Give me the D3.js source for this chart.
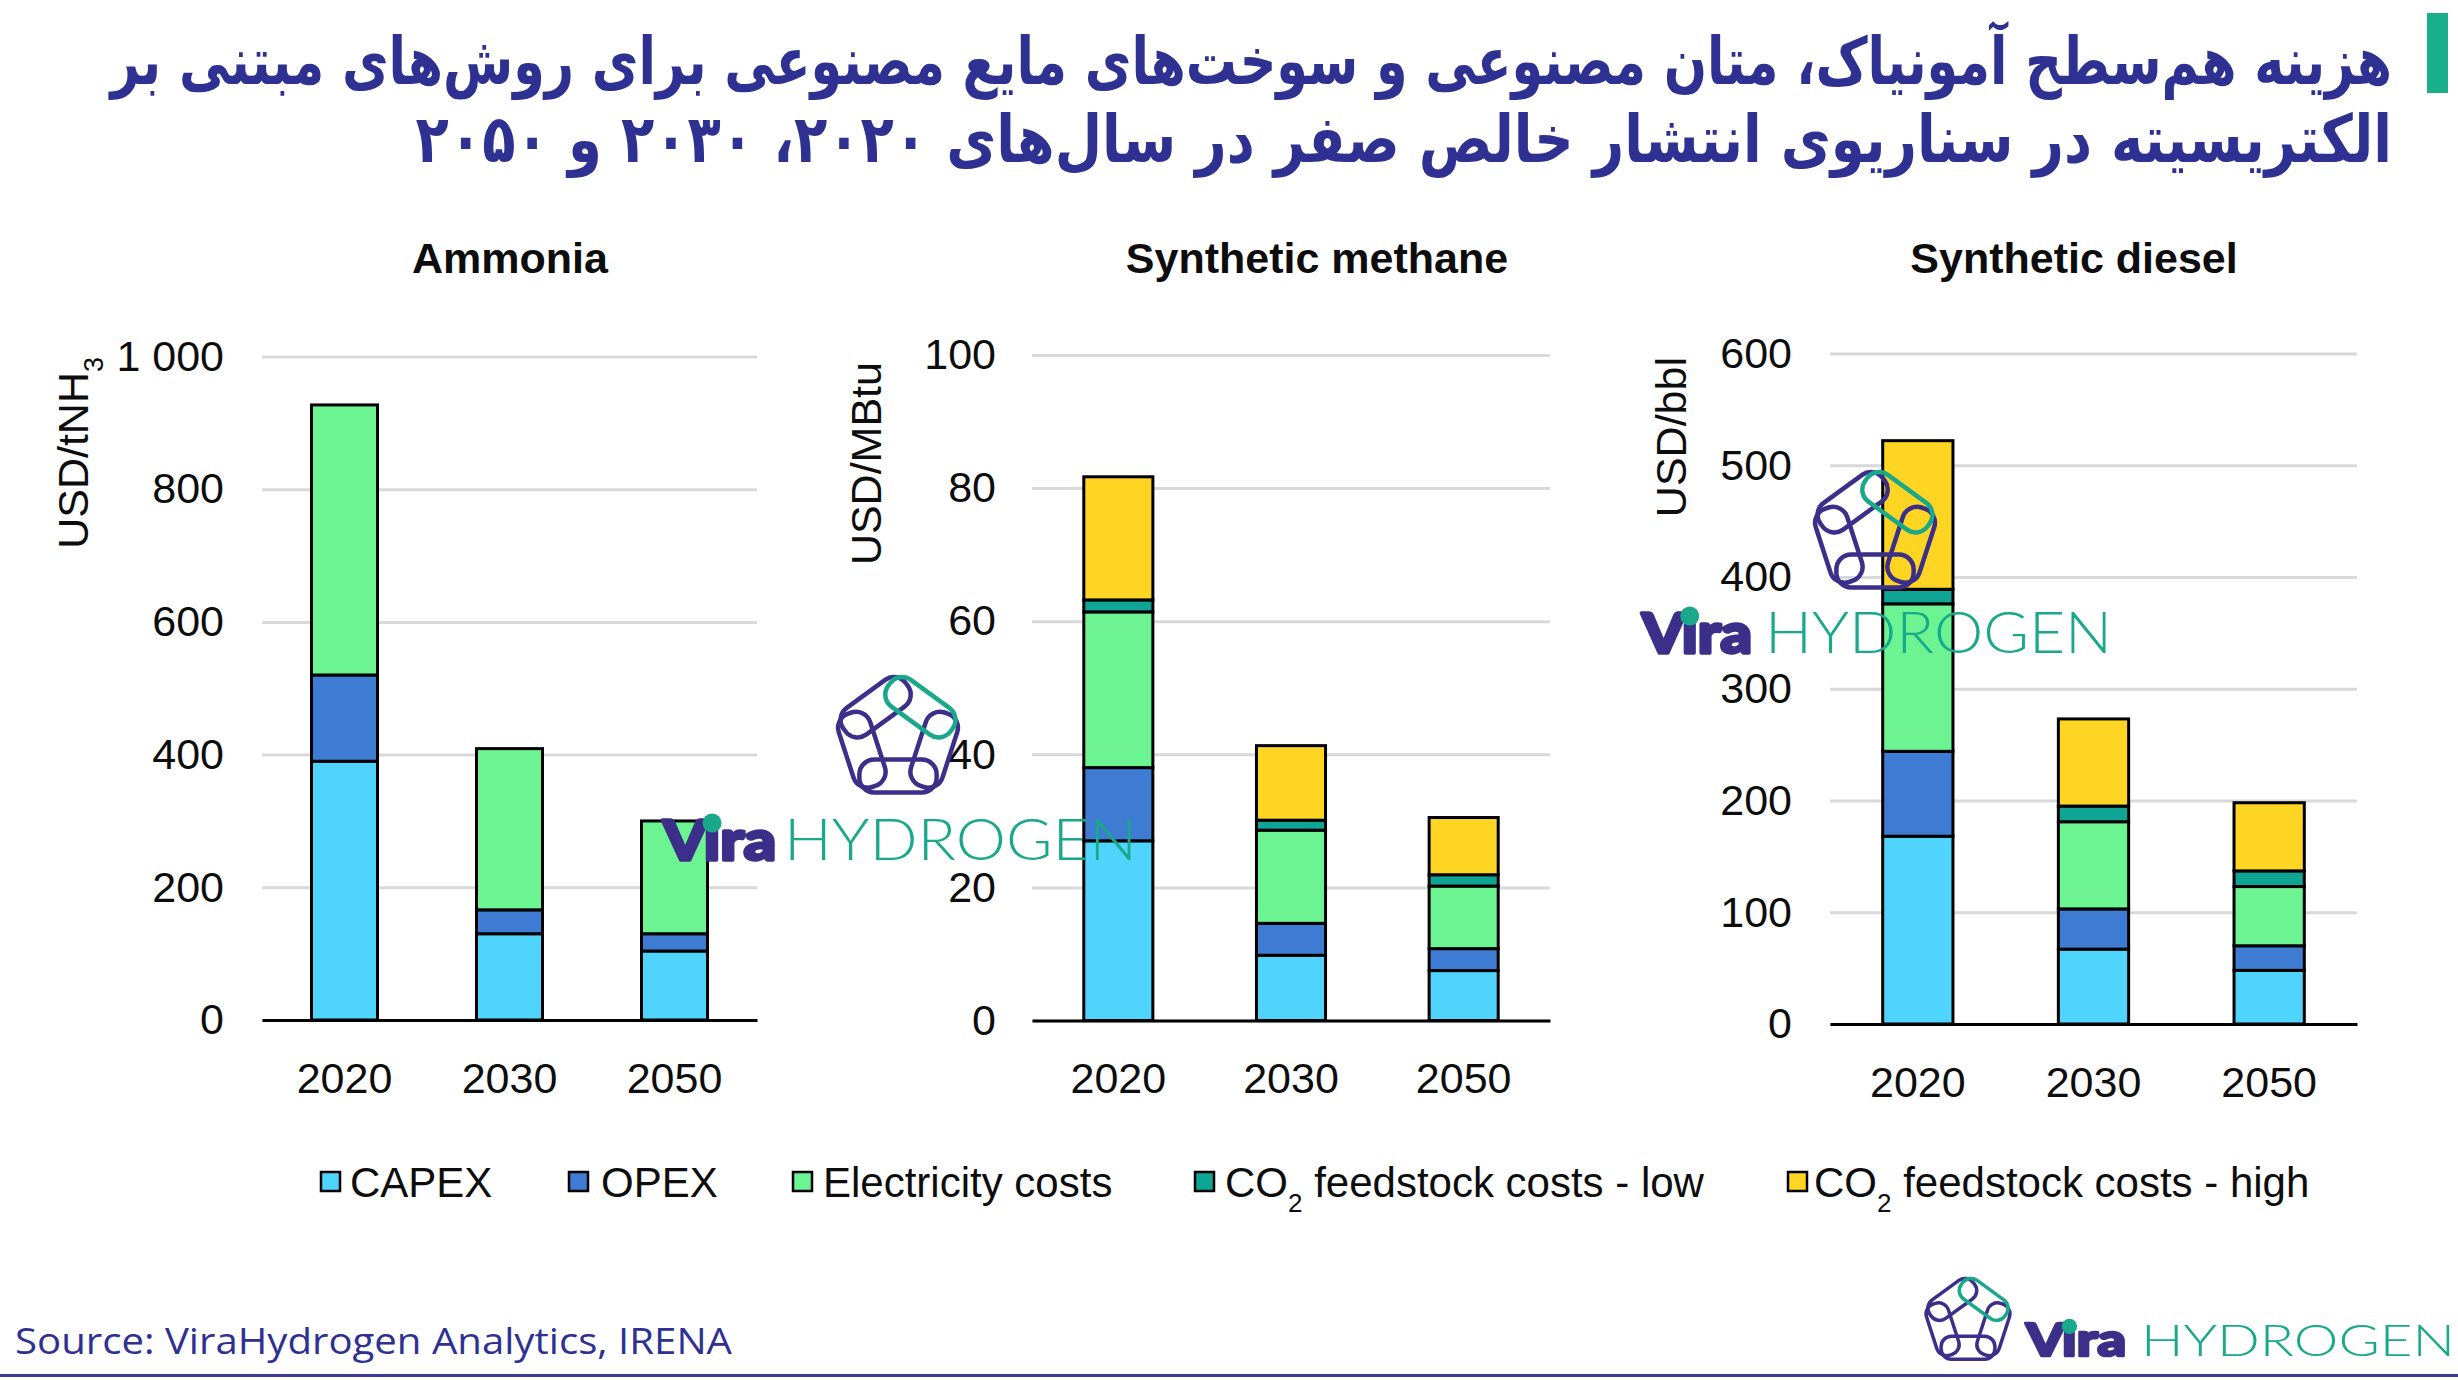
<!DOCTYPE html>
<html><head><meta charset="utf-8">
<script src="https://cdn.jsdelivr.net/npm/d3@7"></script>
<style>
html,body{margin:0;padding:0;background:#fff;}
svg{display:block;}
</style></head>
<body>
<svg id="chart" width="2458" height="1380"></svg>
<script>
// ---------------- DATA ----------------
const years = ["2020", "2030", "2050"];
const seriesKeys = ["capex", "opex", "elec", "co2low", "co2high"];
const seriesLabels = ["CAPEX", "OPEX", "Electricity costs", "CO2 feedstock costs - low", "CO2 feedstock costs - high"];

const panelTitles = ["Ammonia", "Synthetic methane", "Synthetic diesel"];
const unitLabels = ["USD/tNH3", "USD/MBtu", "USD/bbl"];

// Ammonia (USD/tNH3)
const ammoniaCapex   = [390, 130, 104];
const ammoniaOpex    = [130, 36, 26];
const ammoniaElec    = [407, 243, 170];
const ammoniaCo2Low  = [0, 0, 0];
const ammoniaCo2High = [0, 0, 0];

// Synthetic methane (USD/MBtu)
const methaneCapex   = [27, 9.8, 7.5];
const methaneOpex    = [11, 4.8, 3.3];
const methaneElec    = [23.4, 14, 9.4];
const methaneCo2Low  = [1.8, 1.5, 1.7];
const methaneCo2High = [18.5, 11.2, 8.6];

// Synthetic diesel (USD/bbl)
const dieselCapex   = [168, 67, 48];
const dieselOpex    = [76, 36, 22];
const dieselElec    = [132, 78, 53];
const dieselCo2Low  = [13, 14, 14];
const dieselCo2High = [133, 78, 61];

const ammoniaTicks = [0, 200, 400, 600, 800, 1000];
const ammoniaTickLabels = ["0", "200", "400", "600", "800", "1 000"];
const methaneTicks = [0, 20, 40, 60, 80, 100];
const methaneTickLabels = ["0", "20", "40", "60", "80", "100"];
const dieselTicks = [0, 100, 200, 300, 400, 500, 600];
const dieselTickLabels = ["0", "100", "200", "300", "400", "500", "600"];

const titleLine1 = "هزینه هم‌سطح آمونیاک، متان مصنوعی و سوخت‌های مایع مصنوعی برای روش‌های مبتنی بر";
const titleLine2 = "الکتریسیته در سناریوی انتشار خالص صفر در سال‌های ۲۰۲۰، ۲۰۳۰ و ۲۰۵۰";
const sourceText = "Source: ViraHydrogen Analytics, IRENA";

// ---------------- STYLE / LAYOUT ----------------
const colors = {capex: "#4fd4fd", opex: "#3e7bd3", elec: "#6cf493", co2low: "#0fa595", co2high: "#fdd522"};
const FONT = "'Liberation Sans', Arial, sans-serif";
const FS = 43;
const navy = "#3b2f8a", teal = "#19a98a";

const svg = d3.select("#chart");

const panelLayout = [
  {x0: 262, x1: 757, yZero: 1020, yTop: 356.5, max: 1000, titleX: 510, unitX: 73, unitEnd: 357, tickRight: 224},
  {x0: 1032, x1: 1550, yZero: 1020.5, yTop: 355, max: 100, titleX: 1317, unitX: 866, unitEnd: 362, tickRight: 996},
  {x0: 1830, x1: 2357, yZero: 1024, yTop: 353.5, max: 600, titleX: 2074, unitX: 1671, unitEnd: 357, tickRight: 1792}
];
const panelValues = [
  [ammoniaCapex, ammoniaOpex, ammoniaElec, ammoniaCo2Low, ammoniaCo2High],
  [methaneCapex, methaneOpex, methaneElec, methaneCo2Low, methaneCo2High],
  [dieselCapex, dieselOpex, dieselElec, dieselCo2Low, dieselCo2High]
];
const panelTicks = [ammoniaTicks, methaneTicks, dieselTicks];
const panelTickLabels = [ammoniaTickLabels, methaneTickLabels, dieselTickLabels];

// ---------------- TITLE ----------------
svg.append("rect").attr("x", 2427).attr("y", 13).attr("width", 21).attr("height", 80).attr("fill", "#17b08a");

function titleLine(txt, right, baseline, targetW) {
  const g = svg.append("g");
  const t = g.append("text").attr("x", 0).attr("y", 0)
    .attr("direction", "rtl").attr("text-anchor", "start")
    .attr("font-family", "'DejaVu Sans', sans-serif").attr("font-weight", "bold")
    .attr("font-size", 66).attr("fill", "#2e3192")
    .text(txt);
  const w = t.node().getComputedTextLength();
  g.attr("transform", `translate(${right},${baseline}) scale(${targetW / w},1)`);
}
titleLine(titleLine1, 2392, 84, 2282);
titleLine(titleLine2, 2392, 162, 1977);

// ---------------- PANELS ----------------
panelLayout.forEach((p, pi) => {
  const vals = panelValues[pi];
  const rows = years.map((yr, i) => {
    const r = {year: yr};
    seriesKeys.forEach((k, si) => r[k] = vals[si][i]);
    return r;
  });
  const stacked = d3.stack().keys(seriesKeys)(rows);

  const x = d3.scaleBand().domain(years).range([p.x0, p.x1]).paddingInner(0.6).paddingOuter(0.3);
  const y = d3.scaleLinear().domain([0, p.max]).range([p.yZero, p.yTop]);

  const g = svg.append("g");

  // y axis + gridlines
  const ticks = panelTicks[pi], labels = panelTickLabels[pi];
  const yAxis = d3.axisLeft(y).tickValues(ticks)
    .tickFormat(d => labels[ticks.indexOf(d)])
    .tickSize(-(p.x1 - p.x0)).tickPadding(p.x0 - p.tickRight);
  const ya = g.append("g").attr("transform", `translate(${p.x0},0)`).call(yAxis);
  ya.select(".domain").remove();
  ya.selectAll(".tick line").attr("stroke", "#d9d9d9").attr("stroke-width", 3);
  ya.selectAll(".tick text").attr("font-family", FONT).attr("font-size", FS).attr("fill", "#0d0d0d");

  // bars
  stacked.forEach(layer => {
    g.append("g").selectAll("rect")
      .data(layer.filter(d => d[1] - d[0] > 0))
      .join("rect")
      .attr("x", d => x(d.data.year))
      .attr("width", x.bandwidth())
      .attr("y", d => y(d[1]))
      .attr("height", d => y(d[0]) - y(d[1]))
      .attr("fill", colors[layer.key])
      .attr("stroke", "#000").attr("stroke-width", 3);
  });

  // x axis
  const xAxis = d3.axisBottom(x).tickSize(0).tickSizeOuter(0).tickPadding(42);
  const xa = g.append("g").attr("transform", `translate(0,${p.yZero})`).call(xAxis);
  xa.select(".domain").attr("stroke", "#000").attr("stroke-width", 3);
  xa.selectAll(".tick text").attr("font-family", FONT).attr("font-size", FS).attr("fill", "#0d0d0d");

  // panel title
  g.append("text").attr("x", p.titleX).attr("y", 273).attr("text-anchor", "middle")
    .attr("font-family", FONT).attr("font-weight", "bold").attr("font-size", 43).attr("fill", "#0d0d0d")
    .text(panelTitles[pi]);

  // unit label
  const u = unitLabels[pi];
  const ut = g.append("text")
    .attr("transform", `translate(${p.unitX},${p.unitEnd}) rotate(-90)`)
    .attr("text-anchor", "end").attr("dy", "0.35em")
    .attr("font-family", FONT).attr("font-size", FS).attr("fill", "#0d0d0d");
  if (u.endsWith("NH3")) {
    ut.append("tspan").text(u.slice(0, -1));
    ut.append("tspan").attr("baseline-shift", "sub").attr("font-size", 27).text("3");
  } else {
    ut.text(u);
  }
});

// ---------------- LEGEND ----------------
const legendSquareX = [321, 569, 793, 1195, 1788];
const legendTextX = [350, 601, 823, 1225, 1814];
const lg = svg.append("g");
seriesKeys.forEach((k, i) => {
  lg.append("rect").attr("x", legendSquareX[i]).attr("y", 1172).attr("width", 19).attr("height", 19)
    .attr("fill", colors[k]).attr("stroke", "#000").attr("stroke-width", 2.5);
  const t = lg.append("text").attr("x", legendTextX[i]).attr("y", 1182).attr("dy", "0.35em")
    .attr("font-family", FONT).attr("font-size", 42).attr("fill", "#0d0d0d");
  const lab = seriesLabels[i];
  if (lab.startsWith("CO2")) {
    t.append("tspan").text("CO");
    t.append("tspan").attr("baseline-shift", "sub").attr("font-size", 26).text("2");
    t.append("tspan").text(lab.slice(3));
  } else {
    t.text(lab);
  }
});

// ---------------- SOURCE + BOTTOM LINE ----------------
svg.append("text").attr("x", 15).attr("y", 1354)
  .attr("font-family", "'Open Sans', sans-serif").attr("font-size", 36).attr("fill", "#2e3192")
  .attr("textLength", 717).attr("lengthAdjust", "spacingAndGlyphs")
  .text(sourceText);
svg.append("line").attr("x1", 0).attr("x2", 2458).attr("y1", 1375.5).attr("y2", 1375.5)
  .attr("stroke", "#3c3c94").attr("stroke-width", 3);

// ---------------- LOGOS ----------------
function drawIcon(cx, cy, R, w, ext, sw) {
  const g = svg.append("g");
  const verts = d3.range(5).map(k => {
    const a = (-90 + 72 * k) * Math.PI / 180;
    return [cx + R * Math.cos(a), cy + R * Math.sin(a)];
  });
  const order = [1, 2, 3, 4, 0];
  order.forEach(k => {
    const a = verts[k], b = verts[(k + 1) % 5];
    const mx = (a[0] + b[0]) / 2, my = (a[1] + b[1]) / 2;
    const len = Math.hypot(b[0] - a[0], b[1] - a[1]) + 2 * ext;
    const ang = Math.atan2(b[1] - a[1], b[0] - a[0]) * 180 / Math.PI;
    g.append("rect")
      .attr("x", -len / 2).attr("y", -w / 2).attr("width", len).attr("height", w)
      .attr("rx", w * 0.45)
      .attr("transform", `translate(${mx},${my}) rotate(${ang})`)
      .attr("fill", "none").attr("stroke", k === 0 ? teal : navy).attr("stroke-width", sw);
  });
}
function drawWordmark(viraX, viraW, hydX, hydW, baseline, fs, fsH) {
  const vt = svg.append("text").attr("x", viraX).attr("y", baseline)
    .attr("font-family", "Lato, 'Open Sans', sans-serif").attr("font-weight", 900)
    .attr("font-size", fs).attr("fill", navy)
    .attr("stroke", navy).attr("stroke-width", fs * 0.06).attr("stroke-linejoin", "round")
    .attr("textLength", viraW).attr("lengthAdjust", "spacingAndGlyphs")
    .text("V\u0131ra");
  let dotX = viraX + 0.43 * viraW;
  try {
    const ext = vt.node().getExtentOfChar(1);
    dotX = ext.x + ext.width / 2;
  } catch (e) {}
  svg.append("circle").attr("cx", dotX).attr("cy", baseline - 0.66 * fs)
    .attr("r", 0.17 * fs).attr("fill", teal);
  svg.append("text").attr("x", hydX).attr("y", baseline)
    .attr("font-family", "Lato, 'Open Sans', sans-serif").attr("font-weight", 300)
    .attr("font-size", fsH).attr("fill", teal)
    .attr("textLength", hydW).attr("lengthAdjust", "spacingAndGlyphs")
    .text("HYDROGEN");
}
// middle watermark
drawIcon(898, 738, 47, 33, 11, 4.5);
drawWordmark(663, 113, 784, 353, 860, 56, 58);
// diesel watermark
drawIcon(1875, 533, 47, 33, 11, 4.5);
drawWordmark(1642, 110, 1765, 347, 653, 56, 58);
// bottom-right logo
drawIcon(1968, 1321, 33, 23, 7.5, 3.5);
drawWordmark(2026, 100, 2141, 314, 1356, 45, 44);
</script>
</body></html>
